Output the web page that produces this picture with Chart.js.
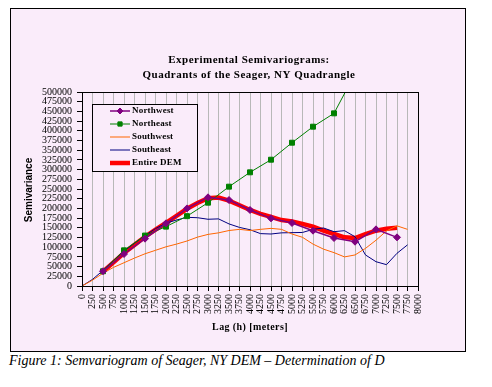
<!DOCTYPE html>
<html>
<head>
<meta charset="utf-8">
<script src="https://cdn.jsdelivr.net/npm/chart.js@4.4.0/dist/chart.umd.min.js"></script>
<style>
body { margin: 0; background: #fff; width: 492px; height: 387px; position: relative; overflow: hidden; }
.frame { position: absolute; left: 10px; top: 8px; width: 456px; height: 344px; border: 1px solid #000; box-sizing: border-box; background: #faecfa; }
.frame canvas { display: block; }
.caption { position: absolute; left: 9px; top: 353px; font: italic 14px "Times New Roman", "Liberation Serif", serif; white-space: nowrap; color: #000; }
</style>
</head>
<body>
<div class="frame"><canvas id="semi" width="454" height="342"></canvas></div>
<div class="caption">Figure 1: Semvariogram of Seager, NY DEM – Determination of D</div>
<script>
// lag distances (m), one every 250
const lags = [0, 250, 500, 750, 1000, 1250, 1500, 1750, 2000, 2250, 2500, 2750, 3000, 3250, 3500, 3750,
    4000, 4250, 4500, 4750, 5000, 5250, 5500, 5750, 6000, 6250, 6500, 6750, 7000, 7250, 7500, 7750, 8000];

// semivariance per quadrant
const northwest = [null, null, 38000, null, 82500, null, 122000, null, 161500, null, 200000, null, 228500, null,
    221600, null, 195900, null, 174400, null, 162400, null, 142600, null, 123700, null, 114200, null,
    146000, null, 125400, null, null];
const northeast = [null, null, 38000, null, 92000, null, 130000, null, 153000, null, 180000, null, 214700, null,
    256000, null, 293000, null, 325500, null, 369300, null, 410600, null, 445000, null, 547000, null,
    null, null, null, null, null];
const southwest = [0, 15000, 33000, 48000, 60000, 72000, 83000, 92000, 101000, 108000, 116000, 126000, 133000,
    137000, 143000, 146000, 143000, 146000, 148500, 146000, 134000, 125500, 108000, 95000, 86000, 75000,
    80000, 97000, 118000, 142000, 155000, 146000, null];
const southeast = [0, 17000, 40000, 66000, 90000, 110000, 130000, 148000, 162000, 170000, 177000, 176000, 172000,
    173000, 160000, 151000, 145000, 135000, 134000, 137000, 137500, 138000, 146000, 149500, 140000, 142600,
    127000, 80000, 62600, 55000, 84300, 106000, null];
const entire = [null, null, 37000, 61000, 85000, 106000, 127000, 145000, 163000, 181000, 199000, 214000, 226000,
    228000, 220000, 208000, 196000, 186000, 178000, 170000, 166600, 160000, 152900, 142600, 134000, 125500,
    123700, 134000, 142600, 147700, 150300, null, null];

const titleLines = ['Experimental Semivariograms:', 'Quadrants of the Seager, NY Quadrangle'];
const xTitle = 'Lag (h) [meters]';
const yTitle = 'Semivariance';

const serif = '"Times New Roman", "Liberation Serif", serif';
const bg = '#faecfa';

const decor = {
    id: 'decor',
    afterDraw(chart) {
        const ctx = chart.ctx, a = chart.chartArea;
        ctx.save();
        // plot area frame
        ctx.strokeStyle = '#000';
        ctx.lineWidth = 1;
        ctx.strokeRect(a.left + 0.5, a.top + 0.5, a.right - a.left, a.bottom - a.top);

        // titles
        ctx.fillStyle = '#000';
        ctx.textAlign = 'center';
        ctx.textBaseline = 'middle';
        ctx.font = 'bold 11px ' + serif;
        ctx.letterSpacing = '0.5px';
        ctx.fillText(titleLines[0], 238, 51);
        ctx.fillText(titleLines[1], 238, 66);

        ctx.font = 'bold 10px ' + serif;
        ctx.letterSpacing = '0.4px';
        ctx.fillText(xTitle, 239, 318);
        ctx.save();
        ctx.translate(18, 181);
        ctx.rotate(-Math.PI / 2);
        ctx.font = 'bold 10px "Liberation Sans", Arial, sans-serif';
        ctx.letterSpacing = '0px';
        ctx.fillText(yTitle, 0, 0);
        ctx.restore();

        // legend box
        ctx.letterSpacing = '0.2px';
        ctx.fillStyle = bg;
        ctx.fillRect(81, 95, 105, 67);
        ctx.strokeStyle = '#000';
        ctx.lineWidth = 1;
        ctx.strokeRect(81.5, 95.5, 105, 67);
        ctx.font = 'bold 9px ' + serif;
        ctx.textAlign = 'left';
        chart.data.datasets.forEach((ds, i) => {
            const y = 102 + i * 13;
            ctx.strokeStyle = ds.borderColor;
            ctx.lineWidth = ds.borderWidth;
            ctx.beginPath();
            ctx.moveTo(99, y);
            ctx.lineTo(119, y);
            ctx.stroke();
            if (ds.pointRadius > 0) {
                ctx.fillStyle = ds.borderColor;
                ctx.lineWidth = 1;
                Chart.helpers.drawPoint(ctx, {pointStyle: ds.pointStyle, radius: ds.pointRadius - 0.5, rotation: 0, borderWidth: 1}, 109, y);
            }
            ctx.fillStyle = '#000';
            ctx.fillText(ds.label, 121, y);
        });
        ctx.restore();
    }
};

new Chart(document.getElementById('semi'), {
    type: 'line',
    data: {
        labels: lags,
        datasets: [
            {label: 'Northwest', data: northwest, borderColor: '#800080', backgroundColor: '#800080', borderWidth: 1.5,
                pointStyle: 'rectRot', pointRadius: 3.5, pointBorderWidth: 1, spanGaps: true},
            {label: 'Northeast', data: northeast, borderColor: '#008000', backgroundColor: '#008000', borderWidth: 1,
                pointStyle: 'rect', pointRadius: 3.5, pointBorderWidth: 1, spanGaps: true},
            {label: 'Southwest', data: southwest, borderColor: '#ff6600', borderWidth: 1, pointRadius: 0},
            {label: 'Southeast', data: southeast, borderColor: '#000080', borderWidth: 1, pointRadius: 0},
            {label: 'Entire DEM', data: entire, borderColor: '#ff0000', borderWidth: 4.5, pointRadius: 0, order: 1}
        ]
    },
    options: {
        responsive: false,
        animation: false,
        devicePixelRatio: 1,
        events: [],
        layout: {padding: {top: 83, left: 0, right: 47, bottom: 0}},
        elements: {line: {tension: 0}},
        plugins: {legend: {display: false}, tooltip: {enabled: false}},
        scales: {
            x: {
                type: 'linear', min: 0, max: 8000,
                afterFit(scale) { scale.height = 65; },
                ticks: {stepSize: 250, maxTicksLimit: 40, autoSkip: false, maxRotation: 90, minRotation: 90,
                    padding: 3, color: '#000', font: {family: serif, size: 10},
                    callback: v => String(v)},
                grid: {color: '#b8b8b8', tickColor: '#000', tickLength: 5, lineWidth: 1},
                border: {color: '#000', width: 1}
            },
            y: {
                min: 0, max: 500000,
                afterFit(scale) { scale.width = 71; },
                ticks: {stepSize: 25000, maxTicksLimit: 30, autoSkip: false, padding: 5, color: '#000',
                    font: {family: serif, size: 10}, callback: v => String(v)},
                grid: {drawOnChartArea: false, color: '#000', tickLength: 5},
                border: {color: '#000', width: 1}
            }
        }
    },
    plugins: [decor]
});
</script>
</body>
</html>
